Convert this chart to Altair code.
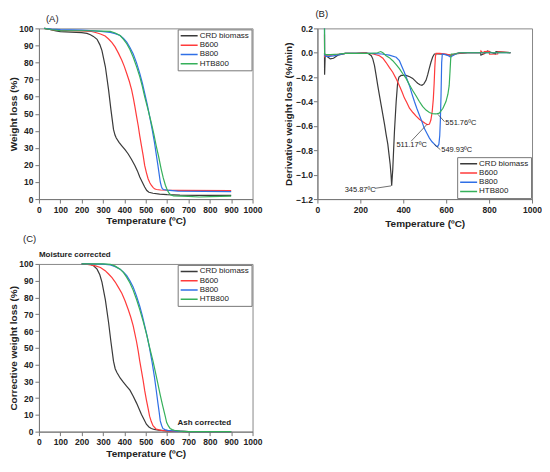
import altair as alt
import pandas as pd

SERIES = ["CRD biomass", "B600", "B800", "HTB800"]
COLORS = ["#3a3a3a", "#ff3b3b", "#2f6fe6", "#35b05a"]
FONT = "Liberation Sans"

# ---------------- Panel A: weight loss (%) ----------------
A_T_CRD = [25, 50, 80, 100, 150, 200, 225, 241, 255, 272, 285, 295, 311, 326, 337, 349, 356, 362, 375, 388, 403, 418, 433, 449, 461, 472, 484, 495, 505, 515, 534, 565, 600, 660, 750, 900]
A_W_CRD = [100, 99.4, 98.5, 98.1, 97.8, 97.5, 97.1, 96.3, 95.3, 93.6, 90.5, 87, 77.5, 64, 52.4, 40.8, 37.5, 35.8, 33.2, 31.2, 28.9, 26.4, 23.3, 19.7, 16.5, 12.9, 9.8, 7.1, 5.0, 4.0, 3.4, 2.9, 2.6, 2.3, 2.2, 2.2]
A_T_B600 = [25, 60, 100, 150, 200, 241, 265, 288, 310, 326, 342, 357, 372, 388, 400, 411, 423, 434, 442, 449, 457, 465, 472, 480, 488, 495, 503, 511, 519, 526, 534, 541, 550, 570, 650, 900]
A_W_B600 = [100, 99.3, 98.8, 98.6, 98.5, 98.3, 97.6, 96.7, 95.5, 93.8, 91.7, 89, 85.5, 81.3, 77.6, 73.6, 69, 64, 59.2, 54.3, 48.5, 42.8, 37, 31.2, 25.4, 19.7, 15.5, 11.9, 9.6, 8.1, 6.8, 6.0, 5.6, 5.3, 5.1, 5.0]
A_T_B800 = [25, 60, 100, 150, 200, 241, 290, 334, 357, 380, 396, 411, 426, 441, 457, 472, 484, 495, 507, 518, 530, 541, 549, 557, 563, 568, 573, 577, 582, 600, 650, 900]
A_W_B800 = [100, 99.6, 99.3, 99.1, 99, 98.7, 98.3, 97.7, 96.9, 95.8, 94.1, 91.9, 88.8, 85.2, 79.8, 73.6, 68, 62, 55.5, 48.6, 40.8, 33.1, 26.3, 19.7, 14.5, 10, 7.5, 6.2, 5.6, 5.2, 4.6, 4.4]
A_T_HTB = [25, 60, 100, 150, 200, 241, 290, 334, 357, 380, 396, 411, 426, 441, 457, 472, 484, 495, 511, 526, 538, 549, 561, 572, 582, 592, 598, 603, 610, 618, 630, 700, 750, 800, 900]
A_W_HTB = [100, 99.2, 98.7, 98.6, 98.6, 98.6, 98.4, 98.2, 97.3, 95.8, 93.6, 91, 87.6, 83.2, 77.6, 71.7, 66, 60, 52.3, 44.7, 38, 31.2, 24.5, 17.7, 12.4, 8.1, 6.2, 4.8, 3.3, 2.4, 1.9, 1.6, 1.2, 1.4, 1.7]

# ---------------- Panel B: derivative weight loss (%/min) ----------------
B_T_CRD = [33, 33.5, 36, 45, 60, 75, 95, 130, 180, 227, 240, 251, 258, 266, 273, 281, 289, 297, 305, 313, 320, 328, 334, 339, 343, 346, 351, 355, 359, 363, 367, 371, 374, 380, 390, 413, 430, 444, 458, 467, 478, 487, 496, 506, 514, 521, 529, 537, 545, 560, 590, 620, 640, 700, 760, 762, 790, 792, 830, 832, 900]
B_V_CRD = [0.0, -0.18, -0.03, -0.03, -0.05, -0.045, -0.02, -0.005, -0.005, 0.0, -0.01, -0.024, -0.05, -0.105, -0.18, -0.267, -0.35, -0.43, -0.51, -0.59, -0.67, -0.75, -0.84, -0.914, -1.0, -1.09, -0.96, -0.8, -0.644, -0.52, -0.40, -0.31, -0.24, -0.2, -0.186, -0.186, -0.197, -0.21, -0.235, -0.25, -0.262, -0.267, -0.255, -0.226, -0.18, -0.13, -0.078, -0.035, -0.01, -0.01, -0.012, -0.02, -0.01, 0.0, 0.0, -0.02, 0.005, 0.015, -0.01, 0.01, 0.0]
B_T_B600 = [33, 33.5, 40, 60, 90, 130, 180, 220, 260, 289, 305, 320, 335, 351, 366, 382, 394, 405, 417, 429, 445, 460, 475, 490, 503, 514, 522, 529, 535, 540, 544, 547, 550, 553, 570, 600, 620, 635, 650, 700, 760, 762, 775, 777, 800, 802, 840, 842, 900]
B_V_B600 = [0.15, -0.03, -0.02, -0.02, -0.015, -0.005, -0.005, 0.0, -0.01, -0.024, -0.045, -0.08, -0.12, -0.16, -0.21, -0.27, -0.32, -0.37, -0.41, -0.455, -0.49, -0.52, -0.545, -0.563, -0.58, -0.59, -0.585, -0.55, -0.48, -0.38, -0.25, -0.12, -0.03, -0.005, -0.005, -0.01, -0.02, -0.015, -0.005, 0.0, 0.0, 0.015, -0.01, 0.01, 0.012, -0.012, -0.01, 0.008, 0.0]
B_T_B800 = [33, 33.5, 40, 55, 75, 100, 130, 180, 250, 300, 335, 367, 382, 393, 405, 417, 429, 440, 452, 463, 475, 487, 498, 510, 522, 534, 545, 553, 560, 566, 570, 573, 576, 579, 582, 595, 610, 620, 630, 645, 660, 700, 900]
B_V_B800 = [0.2, -0.02, -0.03, -0.03, -0.025, -0.015, -0.005, -0.005, -0.005, -0.01, -0.02, -0.037, -0.065, -0.11, -0.16, -0.215, -0.27, -0.335, -0.40, -0.455, -0.51, -0.565, -0.62, -0.66, -0.70, -0.73, -0.75, -0.765, -0.77, -0.75, -0.68, -0.55, -0.35, -0.08, -0.01, -0.015, -0.025, -0.035, -0.025, -0.01, 0.0, 0.0, 0.0]
B_T_HTB = [33, 33.5, 40, 60, 100, 130, 200, 250, 280, 295, 305, 320, 335, 351, 366, 382, 397, 413, 428, 444, 460, 475, 490, 506, 522, 537, 552, 568, 585, 599, 608, 614, 618, 621, 624, 640, 660, 700, 900]
B_V_HTB = [0.2, -0.01, -0.015, -0.015, -0.01, -0.005, -0.005, -0.005, 0.0, 0.01, 0.0, -0.024, -0.04, -0.065, -0.095, -0.13, -0.17, -0.21, -0.26, -0.31, -0.355, -0.40, -0.44, -0.47, -0.49, -0.50, -0.502, -0.495, -0.455, -0.40, -0.34, -0.27, -0.15, -0.05, -0.01, -0.01, 0.0, 0.0, 0.0]

PEAK_LABELS = ["345.87ºC", "511.17ºC", "549.93ºC", "551.76ºC"]
PEAK_LABEL_T = [127, 368, 577, 596]
PEAK_LABEL_V = [-1.127, -0.755, -0.80, -0.577]
LEADER_T = [268, 437, 545, 561]
LEADER_V = [-1.112, -0.725, -0.752, -0.504]
LEADER_T2 = [343, 512, 573, 592]
LEADER_V2 = [-1.092, -0.585, -0.795, -0.565]

# ---------------- Panel C: corrective weight loss (%) ----------------
C_T_CRD = [200, 241, 257, 272, 285, 295, 311, 326, 337, 349, 357, 365, 380, 395, 410, 426, 442, 457, 469, 480, 492, 503, 515, 526, 540, 560, 600, 700, 900]
C_W_CRD = [100, 99.8, 98.8, 96.9, 93.5, 89.2, 78.6, 65.1, 53.6, 42, 37.5, 35.3, 32, 29.5, 27.2, 24.7, 21, 17, 13.5, 10.2, 7.2, 4.4, 2.8, 1.9, 1.3, 0.9, 0.5, 0, 0]
C_T_B600 = [200, 220, 241, 265, 288, 310, 326, 342, 357, 372, 388, 403, 418, 430, 441, 449, 457, 465, 472, 480, 488, 495, 503, 511, 518, 526, 534, 549, 572, 620, 700, 900]
C_W_B600 = [100, 99.8, 99.4, 98.8, 97.9, 96, 94, 91.8, 89.2, 86, 82.5, 78, 72.8, 68.2, 63.2, 58.4, 53.6, 47.8, 42, 36.2, 30.4, 24.6, 18.9, 13.8, 9.2, 6, 3.5, 1.5, 0.8, 0.3, 0, 0]
C_T_B800 = [200, 250, 300, 334, 357, 380, 396, 411, 426, 441, 457, 472, 484, 495, 507, 518, 530, 541, 549, 557, 563, 568, 574, 580, 590, 603, 640, 700, 900]
C_W_B800 = [100, 100, 99.9, 99.4, 98.4, 96.9, 95.1, 93, 89.9, 86.3, 80.8, 74.8, 69.2, 63.2, 56.7, 49.7, 41.2, 32.4, 24.8, 17, 11.5, 6.4, 3.8, 1.9, 1.2, 0.8, 0.3, 0, 0]
C_T_HTB = [200, 250, 300, 334, 357, 380, 396, 411, 426, 441, 457, 472, 488, 503, 518, 534, 546, 557, 568, 580, 590, 598, 606, 614, 624, 634, 660, 700, 900]
C_W_HTB = [100, 100, 100, 99.8, 98.7, 96.9, 94.8, 92, 88.6, 84.4, 78.8, 72.8, 65.8, 58.4, 50.2, 42, 35, 28.5, 21.7, 15, 9.8, 5.4, 3.4, 1.9, 1.2, 0.8, 0.3, 0, 0]

C_NOTES = ["Moisture corrected", "Ash corrected"]
C_NOTE_T = [0, 649]
C_NOTE_W = [105.4, 5.2]


def long_df(groups):
    rows = []
    for name, ts, vs in groups:
        for i, (t, v) in enumerate(zip(ts, vs)):
            rows.append({"s": name, "T": t, "v": v, "i": i})
    return pd.DataFrame(rows)


dfA = long_df([("CRD biomass", A_T_CRD, A_W_CRD), ("B600", A_T_B600, A_W_B600),
               ("B800", A_T_B800, A_W_B800), ("HTB800", A_T_HTB, A_W_HTB)])
dfB = long_df([("CRD biomass", B_T_CRD, B_V_CRD), ("B600", B_T_B600, B_V_B600),
               ("B800", B_T_B800, B_V_B800), ("HTB800", B_T_HTB, B_V_HTB)])
dfC = long_df([("CRD biomass", C_T_CRD, C_W_CRD), ("B600", C_T_B600, C_W_B600),
               ("B800", C_T_B800, C_W_B800), ("HTB800", C_T_HTB, C_W_HTB)])


def enc_x(xvalues, x_title_pad):
    return alt.X("T:Q", scale=alt.Scale(domain=[0, 1000], nice=False),
                 axis=alt.Axis(values=xvalues, format="d", title="Temperature (ºC)",
                               titlePadding=x_title_pad, labelOverlap=False, labelFlush=False))


def enc_y(ytitle, ydomain, yvalues, yformat, y_title_pad, label_pad):
    return alt.Y("v:Q", scale=alt.Scale(domain=ydomain, nice=False, zero=False),
                 axis=alt.Axis(values=yvalues, format=yformat, title=ytitle,
                               titlePadding=y_title_pad, labelPadding=label_pad,
                               labelOverlap=False, labelFlush=False))


def make_lines(df, X, Y, legend_orient):
    return alt.Chart(df).mark_line(strokeWidth=1.2).encode(
        x=X, y=Y,
        color=alt.Color("s:N", scale=alt.Scale(domain=SERIES, range=COLORS),
                        legend=alt.Legend(orient=legend_orient, offset=1, title=None,
                                          strokeColor="#777", fillColor="white",
                                          padding=2, symbolType="stroke", symbolSize=289,
                                          symbolStrokeWidth=1.5, labelFontSize=8,
                                          labelFont=FONT, clipHeight=9, rowPadding=0.3,
                                          labelOffset=1, labelColor="#222")),
        order=alt.Order("i:Q"),
    )


pct_ticks = list(range(0, 101, 10))
x100 = list(range(0, 1001, 100))
x200 = list(range(0, 1001, 200))
dtg_ticks = [-1.2, -1.0, -0.8, -0.6, -0.4, -0.2, 0.0, 0.2]

# Panel A
XA = enc_x(x100, 2)
YA = enc_y("Weight loss (%)", [0, 100], pct_ticks, "d", 0, 2)
A = make_lines(dfA, XA, YA, "top-right").properties(
    width=214, height=171,
    title=alt.TitleParams("(A)", anchor="start", frame="group", dx=7, offset=1,
                          fontSize=9.5, fontWeight="normal", font=FONT, color="#222"))

# Panel B
XB = enc_x(x200, 5)
YB = enc_y("Derivative weight loss (%/min)", [-1.2, 0.2], dtg_ticks, ".1f", 2, 1)
linesB = make_lines(dfB, XB, YB, "bottom-right")
dfLab = pd.DataFrame({"T": PEAK_LABEL_T, "v": PEAK_LABEL_V, "label": PEAK_LABELS})
dfLead = pd.DataFrame({"T": LEADER_T, "v": LEADER_V, "T2": LEADER_T2, "v2": LEADER_V2})
labB = alt.Chart(dfLab).mark_text(align="left", baseline="middle", fontSize=7.5, font=FONT,
                                  color="#222").encode(x=XB, y=YB, text="label:N")
leadB = alt.Chart(dfLead).mark_rule(color="#333", strokeWidth=0.7).encode(
    x=XB, y=YB, x2="T2:Q", y2="v2:Q")
B = alt.layer(linesB, leadB, labB).properties(
    width=215, height=171,
    title=alt.TitleParams("(B)", anchor="start", frame="group", dx=-2, offset=6,
                          fontSize=9.5, fontWeight="normal", font=FONT, color="#222"))

# Panel C
XC = enc_x(x100, 2)
YC = enc_y("Corrective weight loss (%)", [0, 100], pct_ticks, "d", 0, 2)
linesC = make_lines(dfC, XC, YC, "top-right")
dfNote = pd.DataFrame({"T": C_NOTE_T, "v": C_NOTE_W, "label": C_NOTES})
noteC = alt.Chart(dfNote).mark_text(align="left", baseline="middle", fontSize=8, fontWeight="bold",
                                    font=FONT, color="#222", clip=False).encode(
    x=XC, y=YC, text="label:N")
C = alt.layer(linesC, noteC).properties(
    width=214, height=168,
    title=alt.TitleParams("(C)", anchor="start", frame="group", dx=-16, offset=7,
                          fontSize=9.5, fontWeight="normal", font=FONT, color="#222"))

top = alt.hconcat(A, B, spacing=20).resolve_scale(color="independent").resolve_legend(color="independent")
chart = alt.vconcat(top, C, spacing=4).resolve_scale(color="independent").resolve_legend(
    color="independent").properties(padding={"left": 0, "top": 0, "right": 0, "bottom": 0}).configure_axis(
    grid=False, domainColor="#777", tickColor="#777", tickSize=4, labelFont=FONT,
    labelFontWeight="bold", labelFontSize=8.5, labelColor="#222", titleFont=FONT,
    titleFontSize=10, titleFontWeight="bold", titleColor="#222", labelPadding=2
).configure_view(stroke="#888", strokeWidth=1).configure_legend(labelFont=FONT)

chart.save("out.html", embed_options={"renderer": "svg", "actions": False})
